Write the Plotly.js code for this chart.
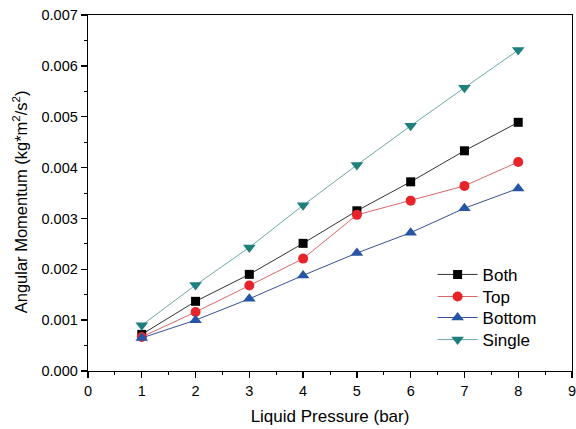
<!DOCTYPE html>
<html>
<head>
<meta charset="utf-8">
<script src="https://cdn.plot.ly/plotly-3.0.1.min.js"></script>
<style>
  html, body { margin: 0; padding: 0; background: #fff; }
  #chart { width: 576px; height: 429px; }
</style>
</head>
<body>
<div id="chart"></div>
<script>
// Liquid pressure (bar)
const pressure = [1, 2, 3, 4, 5, 6, 7, 8];

// Angular momentum (kg*m^2/s^2) for each configuration
const momentumBoth   = [0.00072, 0.00137, 0.00190, 0.00251, 0.00315, 0.00372, 0.00433, 0.00489];
const momentumTop    = [0.00067, 0.00116, 0.00168, 0.00221, 0.00307, 0.00335, 0.00364, 0.00411];
const momentumBottom = [0.00065, 0.00100, 0.00142, 0.00188, 0.00232, 0.00272, 0.00320, 0.00359];
const momentumSingle = [0.00090, 0.00169, 0.00243, 0.00326, 0.00405, 0.00482, 0.00557, 0.00631];

const seriesNames = ['Both', 'Top', 'Bottom', 'Single'];
const xTickVals = [0, 1, 2, 3, 4, 5, 6, 7, 8, 9];
const yTickVals = [0, 0.001, 0.002, 0.003, 0.004, 0.005, 0.006, 0.007];

function series(name, y, symbol, markerColor, lineColor, size, legendId) {
  return {
    x: pressure, y: y, name: name, type: 'scatter', mode: 'lines+markers',
    legend: legendId,
    line: { color: lineColor, width: 1 },
    marker: { symbol: symbol, size: size, color: markerColor, line: { width: 0 } }
  };
}

const data = [
  series(seriesNames[0], momentumBoth,   'square',        '#000000', '#333333', 9,  'legend'),
  series(seriesNames[1], momentumTop,    'circle',        '#e8242b', '#d9686c', 10, 'legend2'),
  series(seriesNames[2], momentumBottom, 'triangle-up',   '#2655a6', '#3a4f99', 11, 'legend3'),
  series(seriesNames[3], momentumSingle, 'triangle-down', '#1e7f7c', '#6aa9a8', 11, 'legend4')
];

const fontFamily = 'Liberation Sans, Arial, sans-serif';

// one compact legend box per entry, stacked with tight row spacing
function legendBox(yPos) {
  return {
    x: 0.712, y: yPos, xanchor: 'left', yanchor: 'middle',
    bgcolor: 'rgba(0,0,0,0)', borderwidth: 0,
    font: { family: fontFamily, size: 17, color: '#000' },
    itemwidth: 40
  };
}

const axisCommon = {
  showgrid: false, zeroline: false, showline: true, mirror: true,
  linecolor: '#000', linewidth: 1.3,
  ticks: 'outside', ticklen: 6, tickwidth: 1.3, tickcolor: '#000',
  ticklabeloverflow: 'allow',
  tickfont: { family: fontFamily, size: 14.5, color: '#000' },
  minor: { ticks: 'outside', ticklen: 3, tickwidth: 1, tickcolor: '#000' }
};

const layout = {
  width: 576, height: 429,
  margin: { l: 88, r: 4, t: 15, b: 58 },
  paper_bgcolor: '#fff', plot_bgcolor: '#fff',
  font: { family: fontFamily, color: '#000' },
  showlegend: true,
  legend:  legendBox(0.270),
  legend2: legendBox(0.208),
  legend3: legendBox(0.149),
  legend4: legendBox(0.087),
  xaxis: Object.assign({}, axisCommon, {
    range: [0, 9], tickvals: xTickVals, ticktext: xTickVals.map(String),
    minor: Object.assign({}, axisCommon.minor, { dtick: 0.5, tick0: 0 }),
    title: { text: 'Liquid Pressure (bar)', font: { size: 17 }, standoff: 12 }
  }),
  yaxis: Object.assign({}, axisCommon, {
    range: [0, 0.007], tickvals: yTickVals, ticktext: yTickVals.map(v => v.toFixed(3)),
    minor: Object.assign({}, axisCommon.minor, { dtick: 0.0005, tick0: 0 })
  }),
  annotations: [{
    text: 'Angular Momentum (kg*m<sup>2</sup>/s<sup>2</sup>)',
    xref: 'paper', yref: 'paper', x: -0.141, y: 0.476,
    xanchor: 'center', yanchor: 'middle', textangle: -90, showarrow: false,
    font: { family: fontFamily, size: 16.5, color: '#000' }
  }]
};

Plotly.newPlot('chart', data, layout, { displayModeBar: false, staticPlot: true });
</script>
</body>
</html>
